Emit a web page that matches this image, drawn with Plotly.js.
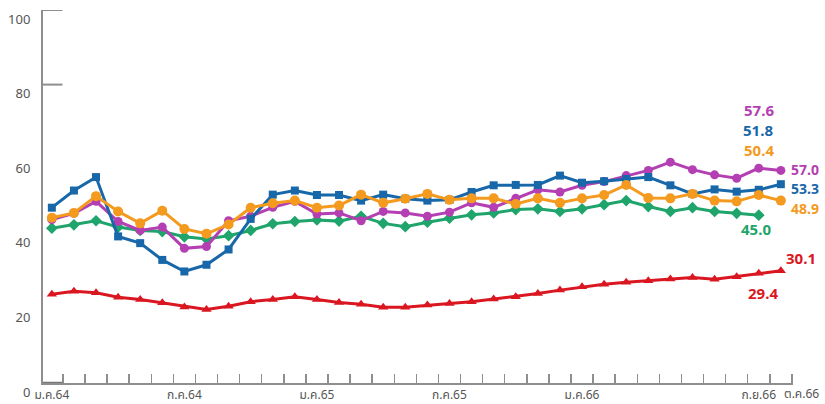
<!DOCTYPE html>
<html>
<head>
<meta charset="utf-8">
<script src="https://cdn.plot.ly/plotly-3.0.1.min.js"></script>
<style>
  html, body { margin: 0; padding: 0; background: #ffffff; }
  #chart { width: 825px; height: 404px; }
</style>
</head>
<body>
<div id="chart"></div>
<script>
// Months ม.ค.64 .. ต.ค.66
const months = [
  "ม.ค.64","ก.พ.64","มี.ค.64","เม.ย.64","พ.ค.64","มิ.ย.64","ก.ค.64","ส.ค.64","ก.ย.64","ต.ค.64","พ.ย.64","ธ.ค.64",
  "ม.ค.65","ก.พ.65","มี.ค.65","เม.ย.65","พ.ค.65","มิ.ย.65","ก.ค.65","ส.ค.65","ก.ย.65","ต.ค.65","พ.ย.65","ธ.ค.65",
  "ม.ค.66","ก.พ.66","มี.ค.66","เม.ย.66","พ.ค.66","มิ.ย.66","ก.ค.66","ส.ค.66","ก.ย.66","ต.ค.66"
];
const labelIdx = [0, 6, 12, 18, 24, 32];
const lastLabelIdx = 33;

const seriesPurple = [43.8, 45.5, 48.7, 43.3, 40.9, 41.8, 36.1, 36.6, 43.5, 44.7, 47.1, 48.7, 45.3, 45.6, 43.5, 46.0, 45.6,
  44.7, 45.8, 48.3, 47.1, 49.5, 51.8, 51.2, 53.0, 54.0, 55.6, 57.0, 59.2, 57.2, 55.8, 54.9, 57.6, 57.0];
const seriesBlue = [47.0, 51.6, 55.2, 39.3, 37.5, 33.0, 29.9, 31.7, 35.8, 44.0, 50.5, 51.6, 50.4, 50.4, 48.9, 50.5, 49.4,
  48.9, 49.1, 51.2, 53.0, 53.1, 53.1, 55.6, 53.7, 54.1, 54.7, 55.2, 53.0, 50.7, 51.9, 51.3, 51.8, 53.3];
const seriesOrange = [44.3, 45.6, 50.1, 46.0, 42.8, 46.2, 41.3, 40.0, 42.5, 47.0, 48.2, 48.9, 47.0, 47.6, 50.5, 48.3, 49.4,
  50.7, 49.1, 49.5, 49.5, 48.0, 49.5, 48.3, 49.5, 50.4, 53.1, 49.6, 49.5, 50.7, 48.9, 48.7, 50.4, 48.9];
const seriesGreen = [41.5, 42.4, 43.5, 41.8, 40.9, 40.6, 39.2, 38.6, 39.5, 40.9, 42.7, 43.3, 43.7, 43.4, 44.7, 42.8, 41.9,
  43.1, 44.2, 45.1, 45.6, 46.5, 46.7, 46.0, 46.7, 47.8, 48.9, 47.3, 46.0, 47.0, 46.0, 45.5, 45.0, null];
const seriesRed = [23.8, 24.6, 24.2, 23.0, 22.4, 21.5, 20.4, 19.7, 20.6, 21.8, 22.4, 23.1, 22.4, 21.6, 21.1, 20.3, 20.3,
  20.9, 21.3, 21.8, 22.5, 23.1, 24.0, 24.9, 25.8, 26.5, 27.0, 27.4, 27.9, 28.3, 27.8, 28.5, 29.4, 30.1];

const yTicks = [0, 20, 40, 60, 80, 100];

const C = {
  purple: "#b43fb3",
  blue: "#1767a9",
  orange: "#f39a1f",
  green: "#1fa46b",
  red: "#da1720",
  axis: "#8e8e8e",
  text: "#555555"
};

const xIdx = months.map((m, i) => i);

function tr(y, color, symbol, size) {
  return {
    x: xIdx, y: y, type: "scatter", mode: "lines+markers",
    line: { color: color, width: 3 },
    marker: { color: color, symbol: symbol, size: size },
    hoverinfo: "x+y", showlegend: false
  };
}

const data = [
  tr(seriesGreen, C.green, "diamond", 9),
  tr(seriesPurple, C.purple, "circle", 9),
  tr(seriesBlue, C.blue, "square", 8),
  tr(seriesOrange, C.orange, "circle", 10),
  tr(seriesRed, C.red, "triangle-up", 9)
];

const numFont = (c, s) => ({ family: "Noto Sans, DejaVu Sans, sans-serif", size: s || 15, color: c, weight: 700 });

function ann(text, xi, yv, color, xanchor, xshift, yshift, size) {
  return { text: "<b>" + text + "</b>", x: xi, y: yv, xref: "x", yref: "y", showarrow: false,
    xanchor: xanchor, yanchor: "middle", xshift: xshift, yshift: yshift, font: numFont(color, size),
    borderpad: 0 };
}

const annotations = [
  ann(seriesPurple[32].toFixed(1), 32, seriesPurple[32], C.purple, "center", 0, 58),
  ann(seriesBlue[32].toFixed(1), 32, seriesBlue[32], C.blue, "center", -1, 60),
  ann(seriesOrange[32].toFixed(1), 32, seriesOrange[32], C.orange, "center", 0, 45),
  ann(seriesPurple[33].toFixed(1), 33, seriesPurple[33], C.purple, "left", 9, 1, 14),
  ann(seriesBlue[33].toFixed(1), 33, seriesBlue[33], C.blue, "left", 9, -4, 14),
  ann(seriesOrange[33].toFixed(1), 33, seriesOrange[33], C.orange, "left", 9, -8, 14),
  ann(seriesGreen[32].toFixed(1), 32, seriesGreen[32], C.green, "center", -3, -14),
  ann(seriesRed[33].toFixed(1), 33, seriesRed[33], C.red, "center", 20, 13),
  ann(seriesRed[32].toFixed(1), 32, seriesRed[32], C.red, "center", 4, -20),
  {
    text: months[lastLabelIdx], x: lastLabelIdx, y: 0, xref: "x", yref: "paper", showarrow: false,
    xanchor: "center", yanchor: "top", xshift: 21, yshift: 0,
    font: { family: "Noto Sans Thai, Noto Sans, DejaVu Sans, sans-serif", size: 12, color: C.text }
  }
];

const shapes = [80, 100].map(v => ({
  type: "line", xref: "paper", yref: "y", x0: 0, x1: 0.026, y0: v, y1: v,
  line: { color: C.axis, width: 2 }
}));
shapes.push({
  type: "line", xref: "paper", yref: "y", x0: 0, x1: 0.026, y0: 0, y1: 0,
  line: { color: "#777777", width: 2.5 }
});

const layout = {
  width: 825, height: 404,
  margin: { l: 43, r: 32, t: 10, b: 21 },
  paper_bgcolor: "#ffffff", plot_bgcolor: "#ffffff",
  font: { family: "Noto Sans Thai, Noto Sans, DejaVu Sans, sans-serif", size: 13, color: C.text },
  xaxis: {
    range: [-0.4, 33.55],
    showgrid: false, zeroline: false,
    showline: true, linecolor: C.axis, linewidth: 2,
    tickmode: "array", tickvals: labelIdx, ticktext: labelIdx.map(i => months[i]),
    ticks: "", tickangle: 0, ticklabelstandoff: 0,
    tickfont: { size: 12, color: C.text },
    minor: { tickmode: "linear", tick0: 0.5, dtick: 1, ticks: "inside", ticklen: 9, tickcolor: C.axis, tickwidth: 1.5, showgrid: false }
  },
  yaxis: {
    range: [0, 100],
    showgrid: false, zeroline: false,
    showline: true, linecolor: C.axis, linewidth: 2,
    tickmode: "array", tickvals: yTicks, ticktext: yTicks.map(String),
    ticks: "", ticklabelshift: 9, ticklabelstandoff: 8,
    tickfont: { size: 13, color: C.text }
  },
  annotations: annotations,
  shapes: shapes
};

Plotly.newPlot("chart", data, layout, { displayModeBar: false, staticPlot: true });
</script>
</body>
</html>
